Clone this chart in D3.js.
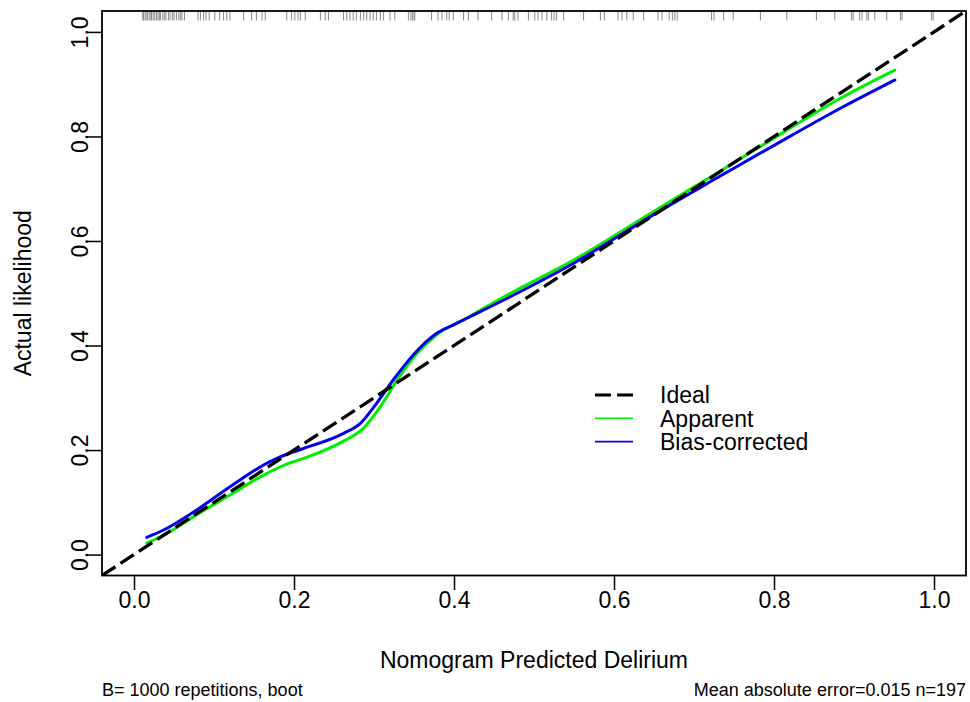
<!DOCTYPE html>
<html>
<head>
<meta charset="utf-8">
<script src="https://cdn.jsdelivr.net/npm/d3@7"></script>
<style>
  html, body { margin: 0; padding: 0; background: #fff; }
  svg text { font-family: "Liberation Sans", Arial, sans-serif; fill: #000; }
</style>
</head>
<body>
<svg id="chart" width="970" height="702"></svg>
<script>
// ---- data ----
const xTicks = [0.0, 0.2, 0.4, 0.6, 0.8, 1.0];
const yTicks = [0.0, 0.2, 0.4, 0.6, 0.8, 1.0];
const tickLabels = ["0.0", "0.2", "0.4", "0.6", "0.8", "1.0"];

const apparentX = [0.016, 0.037, 0.078, 0.120, 0.162, 0.191, 0.212, 0.262, 0.287, 0.308, 0.329, 0.354, 0.378, 0.420, 0.466, 0.549, 0.649, 0.728, 0.799, 0.883, 0.951];
const apparentY = [0.022, 0.037, 0.076, 0.114, 0.152, 0.173, 0.184, 0.217, 0.242, 0.283, 0.334, 0.385, 0.420, 0.456, 0.496, 0.563, 0.656, 0.729, 0.796, 0.873, 0.927];

const biasX = [0.016, 0.037, 0.078, 0.120, 0.170, 0.191, 0.212, 0.262, 0.283, 0.303, 0.324, 0.349, 0.378, 0.399, 0.420, 0.466, 0.549, 0.649, 0.728, 0.799, 0.883, 0.951];
const biasY = [0.033, 0.047, 0.085, 0.130, 0.178, 0.192, 0.203, 0.232, 0.251, 0.289, 0.334, 0.382, 0.423, 0.439, 0.455, 0.490, 0.557, 0.650, 0.720, 0.782, 0.854, 0.908];

const rugValues = [
  0.011,0.012,0.014,0.015,0.017,0.019,0.021,0.022,0.024,0.026,0.028,0.030,0.032,0.033,0.036,0.038,0.040,0.043,0.045,0.048,0.050,0.053,0.056,0.058,0.060,0.063,
  0.080,0.083,0.087,0.090,0.094,0.101,0.107,0.112,0.116,0.120,
  0.137,0.147,0.153,0.160,0.164,
  0.191,0.197,0.201,0.205,0.208,0.214,0.233,0.239,0.243,
  0.262,0.266,0.270,0.274,0.278,0.283,0.287,0.291,0.295,0.299,0.303,0.308,0.312,0.320,0.326,
  0.343,0.346,0.348,0.350,0.351,
  0.372,0.380,0.385,0.391,0.394,0.399,0.412,0.418,0.430,
  0.447,0.460,0.468,0.474,0.476,0.480,0.493,
  0.501,0.505,0.510,0.516,0.522,0.525,0.528,0.537,
  0.562,0.583,0.588,0.605,0.610,0.616,0.624,0.637,0.655,0.660,0.669,
  0.673,0.676,0.679,0.722,0.725,0.737,0.749,0.783,0.816,0.853,0.876,
  0.897,0.899,0.907,0.910,0.916,0.918,0.926,0.941,0.958,0.960,0.997,0.999
];

const legendLabels = ["Ideal", "Apparent", "Bias-corrected"];
const xTitle = "Nomogram Predicted Delirium";
const yTitle = "Actual likelihood";
const leftNote = "B= 1000 repetitions, boot";
const rightNote = "Mean absolute error=0.015 n=197";

// ---- layout ----
const box = { left: 102, right: 966, top: 11, bottom: 575.5 };
const svg = d3.select("#chart");

const x = d3.scaleLinear().domain([-0.04, 1.04]).range([box.left, box.right]);
const y = d3.scaleLinear().domain([-0.04, 1.04]).range([box.bottom, box.top]);

svg.append("defs").append("clipPath").attr("id", "clip")
  .append("rect").attr("x", box.left).attr("y", box.top)
  .attr("width", box.right - box.left).attr("height", box.bottom - box.top);

const plot = svg.append("g").attr("clip-path", "url(#clip)");

// rug
plot.selectAll("line.rug").data(rugValues).enter().append("line")
  .attr("class", "rug")
  .attr("x1", d => x(d)).attr("x2", d => x(d))
  .attr("y1", box.top).attr("y2", box.top + 9.5)
  .attr("stroke", "#8a8a8a").attr("stroke-width", 1);

const line = d3.line().x(d => x(d[0])).y(d => y(d[1])).curve(d3.curveMonotoneX);

plot.append("path").datum(d3.zip(apparentX, apparentY))
  .attr("d", line).attr("fill", "none").attr("stroke", "#00ee00")
  .attr("stroke-width", 3).attr("stroke-linejoin", "round").attr("stroke-linecap", "round");

plot.append("path").datum(d3.zip(biasX, biasY))
  .attr("d", line).attr("fill", "none").attr("stroke", "#0000ee")
  .attr("stroke-width", 3).attr("stroke-linejoin", "round").attr("stroke-linecap", "round");

// ideal
plot.append("line")
  .attr("x1", x(-0.04)).attr("y1", y(-0.04)).attr("x2", x(1.04)).attr("y2", y(1.04))
  .attr("stroke", "#000").attr("stroke-width", 3.3).attr("stroke-dasharray", "16,6");

// frame
svg.append("rect").attr("x", box.left).attr("y", box.top)
  .attr("width", box.right - box.left).attr("height", box.bottom - box.top)
  .attr("fill", "none").attr("stroke", "#000").attr("stroke-width", 1.8);

// x axis
const xAxis = d3.axisBottom(x).tickValues(xTicks).tickSize(14.5).tickPadding(2)
  .tickFormat((d, i) => tickLabels[i]);
const gx = svg.append("g").attr("transform", `translate(0,${box.bottom})`).call(xAxis);
gx.select(".domain").remove();
gx.selectAll(".tick line").attr("stroke", "#000").attr("stroke-width", 1.5);
gx.selectAll(".tick text").attr("font-size", 23).attr("dy", null).attr("y", 32)
  .attr("font-family", '"Liberation Sans", Arial, sans-serif');

// y axis
const yAxis = d3.axisLeft(y).tickValues(yTicks).tickSize(15).tickPadding(0)
  .tickFormat((d, i) => tickLabels[i]);
const gy = svg.append("g").attr("transform", `translate(${box.left},0)`).call(yAxis);
gy.select(".domain").remove();
gy.selectAll(".tick line").attr("stroke", "#000").attr("stroke-width", 1.5);
gy.selectAll(".tick text")
  .attr("font-size", 23).attr("x", null).attr("dy", null)
  .attr("text-anchor", "middle")
  .attr("transform", "translate(-14,0) rotate(-90)")
  .attr("font-family", '"Liberation Sans", Arial, sans-serif');

// titles
svg.append("text").attr("x", (box.left + box.right) / 2).attr("y", 668)
  .attr("text-anchor", "middle").attr("font-size", 23).text(xTitle);
svg.append("text")
  .attr("transform", `translate(31,${(box.top + box.bottom) / 2}) rotate(-90)`)
  .attr("text-anchor", "middle").attr("font-size", 23).text(yTitle);

svg.append("text").attr("x", box.left).attr("y", 695.5)
  .attr("font-size", 18).text(leftNote);
svg.append("text").attr("x", box.right).attr("y", 695.5)
  .attr("text-anchor", "end").attr("font-size", 18).text(rightNote);

// legend
const legendStyles = [
  { stroke: "#000", width: 3, dash: "16,6" },
  { stroke: "#00ee00", width: 1.6, dash: null },
  { stroke: "#0000ee", width: 1.6, dash: null }
];
const lg = svg.append("g");
legendLabels.forEach((lab, i) => {
  const ly = 395 + i * 23.3;
  lg.append("line").attr("x1", 595).attr("x2", 633).attr("y1", ly).attr("y2", ly)
    .attr("stroke", legendStyles[i].stroke).attr("stroke-width", legendStyles[i].width)
    .attr("stroke-dasharray", legendStyles[i].dash);
  lg.append("text").attr("x", 660).attr("y", ly + 8.3).attr("font-size", 23).text(lab);
});
</script>
</body>
</html>
